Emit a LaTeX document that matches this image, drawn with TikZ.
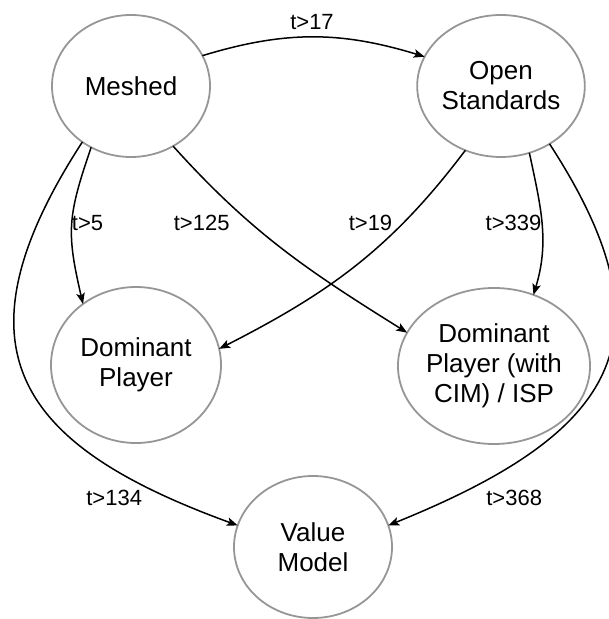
\documentclass[tikz,border=0pt]{standalone}
\usepackage{fontspec}
\setmainfont{Liberation Sans}
\usetikzlibrary{arrows.meta,shapes.geometric}
\definecolor{ringgray}{RGB}{150,150,150}
\begin{document}
\begin{tikzpicture}[x=1pt,y=1pt,
  state/.style={ellipse, draw=ringgray, line width=1.8pt, inner sep=0pt,
    outer sep=0pt, align=center, font=\fontsize{26}{30}\selectfont},
  ringS/.style={state, minimum width=158pt, minimum height=142pt},
  ringL/.style={state, minimum width=170pt, minimum height=156pt},
  flow/.style={-{Stealth[length=11pt,width=8.5pt,inset=2.5pt]},
    line width=1.5pt, black},
  cond/.style={font=\fontsize{22}{26}\selectfont, inner sep=0pt}
]
\useasboundingbox (0,0) rectangle (609,619);

% states
\node[ringS] (M)   at (131,533) {Meshed};
\node[ringS] (O)   at (501,533) {Open\\Standards};
\node[ringL] (DP)  at (136,254) {Dominant\\Player};
\node[ringL] (DPC) at (494,253) {Dominant\\Player (with\\CIM) / ISP};
\node[ringS] (V)   at (313,72)  {Value\\Model};

% transitions
\draw[flow] (M.23)  to[out=17,in=163] (O.159);
\draw[flow] (M.237) to[out=251,in=103,looseness=1.2] (DP.131);
\draw[flow] (M.229) .. controls +(237:250) and +(160:230) .. (V.164);
\draw[flow] (M.305) to[out=-48,in=148] (DPC.159);
\draw[flow] (O.241) to[out=233,in=27] (DP.11);
\draw[flow] (O.293) to[out=282,in=73] (DPC.61);
\draw[flow] (O.310) .. controls +(-57:230) and +(22:250) .. (V.16);

% transition conditions
\node[cond] (c17)  at (312,597) {t>17};
\node[cond] (c5)   at (87.5,396) {t>5};
\node[cond] (c125) at (201.7,396) {t>125};
\node[cond] (c19)  at (370.5,396) {t>19};
\node[cond] (c339) at (513.5,396) {t>339};
\node[cond] (c134) at (114.2,121) {t>134};
\node[cond] (c368) at (514.2,121) {t>368};
\end{tikzpicture}
\end{document}
